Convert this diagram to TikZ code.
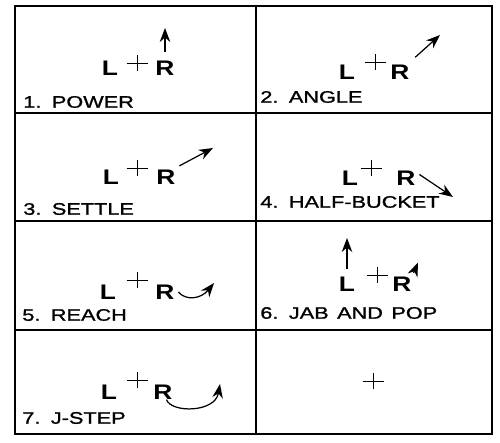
\documentclass[tikz,border=0pt]{standalone}
\usepackage{fontspec}
\setmainfont{Liberation Sans}
\newfontfamily\stepfont[FakeStretch=1.3,FakeBold=1.2,WordSpace=1.4]{Liberation Sans}
\newfontfamily\footfont[FakeStretch=1.25]{Liberation Sans}
\usetikzlibrary{arrows.meta,positioning}

\begin{document}
\begin{tikzpicture}[
    frame/.style={line width=0.8pt},
    crossline/.style={line width=0.55pt},
    foot/.style={font=\footfont\fontsize{12}{14}\selectfont\bfseries, inner sep=0pt},
    steplabel/.style={font=\stepfont\fontsize{9.5}{11}\selectfont, anchor=west, inner sep=0pt},
    move/.style={-{Stealth[length=8pt,width=6pt]}, line width=0.7pt}
]

\useasboundingbox (0,0) rectangle (10,8.84);

% Grid
\draw[frame] (0.30,0.16) rectangle (9.84,8.72);
\draw[frame] (5.12,0.16) -- (5.12,8.72);
\foreach \y in {2.24,4.42,6.58}
    \draw[frame] (0.30,\y) -- (9.84,\y);

% 1. Power
\node[foot] (l1) at (2.20,7.47) {L};
\node[foot] (r1) at (3.30,7.47) {R};
\coordinate (c1) at (2.74,7.58);
\draw[crossline] (c1) +(-0.21,0) -- +(0.21,0) +(0,-0.16) -- +(0,0.16);
\coordinate (t1) at (3.30,8.28);
\draw[move] ([yshift=5pt]r1.north) -- (t1);
\node[steplabel] (s1) at (0.46,6.80) {1. POWER};

% 2. Angle
\node[foot] (l2) at (6.94,7.40) {L};
\node[foot] (r2) at (8.00,7.40) {R};
\coordinate (c2) at (7.50,7.60);
\draw[crossline] (c2) +(-0.21,0) -- +(0.21,0) +(0,-0.16) -- +(0,0.16);
\coordinate (t2) at (8.80,8.14);
\draw[move] ([xshift=3pt,yshift=4pt]r2.north east) -- (t2);
\node[steplabel] (s2) at (5.20,6.90) {2. ANGLE};

% 3. Settle
\node[foot] (l3) at (2.22,5.30) {L};
\node[foot] (r3) at (3.32,5.30) {R};
\coordinate (c3) at (2.74,5.48);
\draw[crossline] (c3) +(-0.21,0) -- +(0.21,0) +(0,-0.16) -- +(0,0.16);
\coordinate (t3) at (4.26,5.88);
\draw[move] ([xshift=2pt,yshift=2pt]r3.north east) -- (t3);
\node[steplabel] (s3) at (0.46,4.66) {3. SETTLE};

% 4. Half-bucket
\node[foot] (l4) at (7.00,5.28) {L};
\node[foot] (r4) at (8.12,5.28) {R};
\coordinate (c4) at (7.42,5.48);
\draw[crossline] (c4) +(-0.21,0) -- +(0.21,0) +(0,-0.16) -- +(0,0.16);
\coordinate (t4) at (9.06,4.90);
\draw[move] ([xshift=2pt,yshift=2pt]r4.east) -- (t4);
\node[steplabel] (s4) at (5.20,4.80) {4. HALF-BUCKET};

% 5. Reach
\node[foot] (l5) at (2.16,3.00) {L};
\node[foot] (r5) at (3.30,3.00) {R};
\coordinate (c5) at (2.74,3.24);
\draw[crossline] (c5) +(-0.21,0) -- +(0.21,0) +(0,-0.16) -- +(0,0.16);
\coordinate (t5) at (4.28,3.18);
\draw[move] ([xshift=2pt]r5.east) .. controls (3.72,2.82) and (4.02,2.86) .. (t5);
\node[steplabel] (s5) at (0.44,2.54) {5. REACH};

% 6. Jab and pop
\node[foot] (l6) at (6.94,3.16) {L};
\node[foot] (r6) at (8.04,3.16) {R};
\coordinate (c6) at (7.54,3.34);
\draw[crossline] (c6) +(-0.21,0) -- +(0.21,0) +(0,-0.16) -- +(0,0.16);
\coordinate (t6) at (6.94,4.08);
\draw[move] ([yshift=4pt]l6.north) -- (t6);
\coordinate (p6) at (8.36,3.59);
\draw[move] ([xshift=1pt,yshift=2pt]r6.north east) -- (p6);
\node[steplabel] (s6) at (5.20,2.58) {6. JAB AND POP};

% 7. J-step
\node[foot] (l7) at (2.18,1.00) {L};
\node[foot] (r7) at (3.26,1.00) {R};
\coordinate (c7) at (2.74,1.24);
\draw[crossline] (c7) +(-0.21,0) -- +(0.21,0) +(0,-0.16) -- +(0,0.16);
\coordinate (t7) at (4.40,1.16);
\draw[move] ([xshift=2pt]r7.south) .. controls (3.42,0.58) and (4.30,0.58) .. (t7);
\node[steplabel] (s7) at (0.44,0.48) {7. J-STEP};

% empty cell
\coordinate (c8) at (7.46,1.22);
\draw[crossline] (c8) +(-0.21,0) -- +(0.21,0) +(0,-0.16) -- +(0,0.16);

\end{tikzpicture}
\end{document}
